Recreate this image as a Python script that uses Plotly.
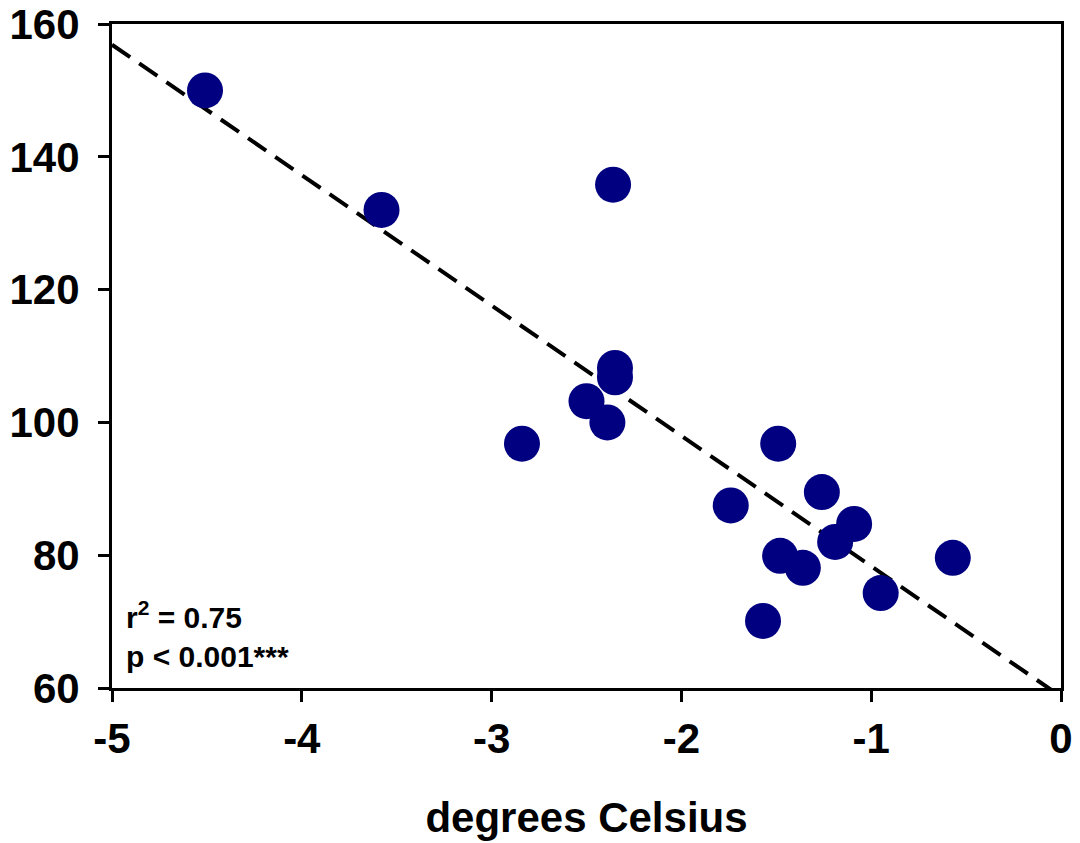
import numpy as np
import plotly.graph_objects as go

# Data
temperature = [-4.51, -3.58, -2.36, -2.35, -2.35, -2.50, -2.39, -2.84, -1.49,
               -1.74, -1.26, -1.09, -1.19, -1.48, -1.36, -1.57, -0.57, -0.95]
values = [150.0, 132.0, 135.8, 108.2, 106.8, 103.2, 100.0, 96.8, 96.8,
          87.5, 89.5, 84.7, 82.0, 79.9, 78.1, 70.1, 79.6, 74.3]

x_ticks = [-5, -4, -3, -2, -1, 0]
x_ticktext = ["-5", "-4", "-3", "-2", "-1", "0"]
y_ticks = [60, 80, 100, 120, 140, 160]
y_ticktext = ["60", "80", "100", "120", "140", "160"]

slope, intercept = np.polyfit(temperature, values, 1)
fit_x = np.array([-5.0, 0.0])
fit_y = slope * fit_x + intercept

navy = "#000080"
font_family = "Liberation Sans, Arial, sans-serif"

fig = go.Figure()
fig.add_trace(go.Scatter(x=fit_x, y=fit_y, mode="lines",
                         line=dict(color="black", width=4, dash="22px,11px"),
                         hoverinfo="skip", showlegend=False))
fig.add_trace(go.Scatter(x=temperature, y=values, mode="markers",
                         marker=dict(symbol="circle", size=36, color=navy,
                                     line=dict(width=0)),
                         showlegend=False))

fig.add_annotation(xref="paper", yref="paper", x=0.013, y=0.02,
                   xanchor="left", yanchor="bottom", align="left", showarrow=False,
                   text="<b>r<sup>2</sup> = 0.75<br>p &lt; 0.001***</b>",
                   font=dict(family=font_family, size=30, color="black"))

axis_common = dict(showgrid=False, zeroline=False, showline=True, linecolor="black",
                   linewidth=3, mirror=True, ticks="outside", ticklen=11, tickwidth=3,
                   tickcolor="black", automargin=False, ticklabeloverflow="allow",
                   tickfont=dict(family=font_family, size=42, color="black", weight="bold"))

fig.update_xaxes(range=[-5, 0], tickvals=x_ticks, ticktext=x_ticktext,
                 ticklabelstandoff=1,
                 title=dict(text="<b>degrees Celsius</b>", standoff=42,
                            font=dict(family=font_family, size=42, color="black")),
                 **axis_common)
fig.update_yaxes(range=[60, 160], tickvals=y_ticks, ticktext=y_ticktext,
                 ticklabelstandoff=10, **axis_common)

fig.update_layout(width=1080, height=843, plot_bgcolor="white", paper_bgcolor="white",
                  margin=dict(l=104, r=27, t=16, b=163))

fig.write_html("out.html")
print(slope, intercept)
